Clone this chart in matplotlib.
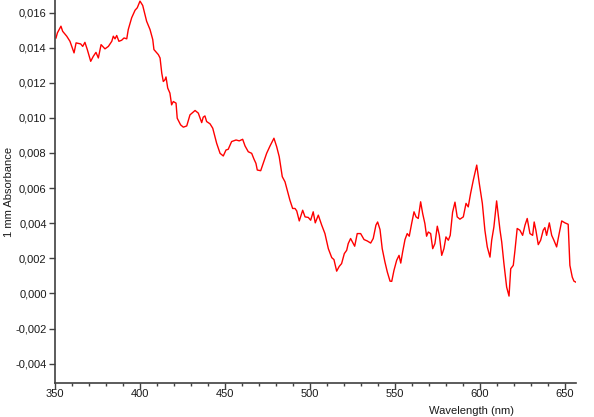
import matplotlib
matplotlib.use("Agg")
import matplotlib.pyplot as plt
from matplotlib.ticker import MultipleLocator, FuncFormatter

plt.rcParams['font.family'] = ['Liberation Sans', 'DejaVu Sans']

# spectrum (wavelength in nm, absorbance per 1 mm)
wavelength = [
    350.6, 351.4, 353.5, 354.5, 356.9, 358.8, 361.2, 362.4, 365.1, 366.3,
    367.6, 369.0, 371.0, 372.5, 374.1, 375.5, 377.1, 379.4, 381.4, 383.4,
    384.3, 385.3, 386.3, 387.6, 389.2, 390.6, 392.2, 393.1, 395.1, 397.1,
    398.4, 400.0, 401.6, 403.9, 405.9, 407.5, 408.2, 410.8, 411.8, 412.8,
    413.7, 414.7, 415.3, 416.3, 417.6, 418.6, 419.6, 421.2, 421.9, 423.9,
    425.5, 427.5, 429.4, 432.4, 434.3, 436.3, 437.2, 438.2, 439.2, 441.2,
    442.8, 445.1, 447.1, 449.0, 450.6, 451.9, 453.9, 456.5, 458.4, 460.4,
    461.8, 463.7, 465.7, 467.1, 468.2, 469.0, 471.0, 472.5, 474.5, 476.5,
    478.8, 480.4, 481.9, 483.7, 485.3, 486.6, 488.2, 489.8, 491.2, 492.2,
    493.7, 495.7, 497.1, 499.0, 500.4, 501.9, 503.1, 504.9, 506.9, 508.8,
    510.8, 512.8, 514.1, 515.7, 517.2, 518.6, 520.2, 521.6, 522.5, 523.9,
    526.3, 527.8, 529.8, 531.8, 533.7, 535.7, 537.2, 538.8, 539.8, 541.2,
    542.5, 544.1, 545.5, 547.1, 548.1, 549.4, 551.0, 552.4, 553.4, 554.5,
    555.9, 557.2, 558.4, 559.8, 561.2, 562.4, 563.7, 565.1, 566.3, 567.6,
    568.6, 569.6, 571.0, 572.2, 573.5, 574.9, 576.1, 577.5, 578.8, 580.0,
    581.4, 582.5, 583.9, 585.3, 586.6, 588.2, 590.2, 591.8, 593.1, 594.5,
    596.1, 598.1, 599.6, 601.4, 602.9, 604.3, 605.9, 606.9, 608.2, 609.8,
    610.8, 611.8, 612.8, 614.1, 615.7, 617.1, 618.1, 619.6, 620.6, 621.9,
    623.5, 625.1, 626.5, 627.8, 629.4, 631.0, 631.9, 632.9, 634.3, 635.7,
    637.2, 638.2, 639.2, 640.8, 642.2, 643.5, 645.1, 646.6, 648.1, 650.0,
    651.9, 652.9, 654.3, 655.3, 656.3,
]
absorbance_e3 = [
    14.55, 14.84, 15.22, 14.93, 14.65, 14.36, 13.70, 14.27, 14.21, 14.07,
    14.30, 13.89, 13.22, 13.50, 13.73, 13.41, 14.17, 13.93, 14.07, 14.36,
    14.65, 14.50, 14.69, 14.36, 14.42, 14.55, 14.50, 15.03, 15.70, 16.13,
    16.27, 16.65, 16.40, 15.50, 15.03, 14.46, 13.89, 13.60, 13.41, 12.55,
    12.07, 12.17, 12.33, 11.70, 11.41, 10.74, 10.93, 10.84, 9.98, 9.60,
    9.47, 9.54, 10.17, 10.42, 10.27, 9.73, 10.04, 10.11, 9.79, 9.66,
    9.41, 8.55, 7.98, 7.83, 8.17, 8.21, 8.65, 8.74, 8.69, 8.78,
    8.40, 8.07, 7.98, 7.64, 7.41, 7.03, 6.99, 7.41, 7.98, 8.40,
    8.84, 8.36, 7.79, 6.65, 6.36, 5.89, 5.31, 4.84, 4.84, 4.70,
    4.13, 4.74, 4.36, 4.33, 4.17, 4.65, 4.02, 4.46, 3.89, 3.41,
    2.55, 2.04, 1.93, 1.27, 1.54, 1.70, 2.27, 2.46, 2.84, 3.13,
    2.69, 3.41, 3.41, 3.07, 2.99, 2.87, 3.13, 3.89, 4.07, 3.64,
    2.55, 1.79, 1.22, 0.70, 0.69, 1.31, 1.89, 2.17, 1.73, 2.36,
    3.07, 3.41, 3.26, 3.98, 4.65, 4.36, 4.27, 5.22, 4.55, 3.98,
    3.26, 3.50, 3.41, 2.55, 2.84, 3.83, 3.31, 2.17, 2.55, 3.22,
    3.03, 3.31, 4.63, 5.20, 4.36, 4.23, 4.36, 5.13, 4.93, 5.70,
    6.46, 7.31, 6.27, 5.13, 3.60, 2.65, 2.07, 3.03, 3.79, 5.27,
    4.46, 3.60, 2.93, 1.70, 0.36, -0.15, 1.41, 1.60, 2.46, 3.70,
    3.60, 3.31, 3.89, 4.27, 3.41, 3.31, 4.07, 3.60, 2.78, 3.03,
    3.60, 3.75, 3.31, 4.02, 3.31, 3.03, 2.65, 3.41, 4.13, 4.02,
    3.94, 1.60, 0.93, 0.70, 0.65,
]
absorbance = [a / 1000 for a in absorbance_e3]

fig = plt.figure(figsize=(5.94, 4.17), dpi=100)
ax = fig.add_axes([0.0926, 0.0815, 0.8771, 0.918])

ax.plot(wavelength, absorbance, color='#ff0000', linewidth=1.0)

ax.set_xlim(350, 656.5)
ax.set_ylim(-0.0051, 0.0167)

ax.xaxis.set_major_locator(MultipleLocator(50))
ax.xaxis.set_minor_locator(MultipleLocator(10))
ax.yaxis.set_major_locator(MultipleLocator(0.002))
ax.yaxis.set_major_formatter(FuncFormatter(lambda v, p: f"{v:.3f}".replace('.', ',')))

ax.spines['top'].set_visible(False)
ax.spines['right'].set_visible(False)
for s in ('left', 'bottom'):
    ax.spines[s].set_color('#404040')
    ax.spines[s].set_linewidth(1.2)

ax.tick_params(axis='both', which='major', length=4, width=1, color='#404040',
               labelsize=8, labelcolor='#1a1a1a', pad=2)
ax.tick_params(axis='x', which='major', pad=0)
ax.tick_params(axis='x', which='minor', length=2, width=1, color='#404040')

ax.set_ylabel('1 mm Absorbance', fontsize=8, color='#1a1a1a', va='center')
ax.yaxis.set_label_coords(-0.088, 0.5)
ax.set_xlabel('Wavelength (nm)', fontsize=8, color='#1a1a1a')
ax.xaxis.set_label_coords(0.8, -0.06)

fig.savefig('out.png', dpi=100)
